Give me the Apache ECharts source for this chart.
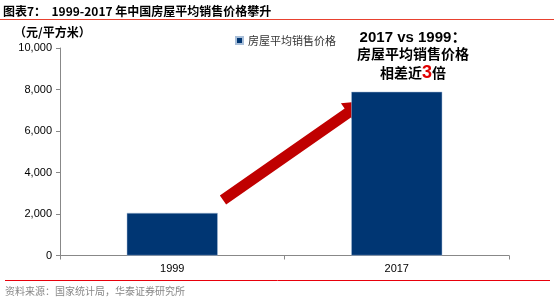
<!DOCTYPE html>
<html><head><meta charset="utf-8">
<script src="https://cdn.jsdelivr.net/npm/echarts@6/dist/echarts.min.js"></script>
<style>html,body{margin:0;padding:0;background:#fff}#c{width:554px;height:300px}</style>
</head><body><div id="c"></div>
<script>
var categories = ['1999', '2017'];
var seriesName = '房屋平均销售价格';
var priceValues = [2053, 7892];
var yTicks = [0, 2000, 4000, 6000, 8000, 10000];

function arrowPoints(tail, tip, hw, headLen, headHw) {
  var dx = tip[0] - tail[0], dy = tip[1] - tail[1];
  var L = Math.sqrt(dx * dx + dy * dy);
  var ux = dx / L, uy = dy / L, nx = -uy, ny = ux;
  var bx = tip[0] - headLen * ux, by = tip[1] - headLen * uy;
  return [
    [tail[0] - hw * nx, tail[1] - hw * ny],
    [bx - hw * nx, by - hw * ny],
    [bx - headHw * nx, by - headHw * ny],
    tip,
    [bx + headHw * nx, by + headHw * ny],
    [bx + hw * nx, by + hw * ny],
    [tail[0] + hw * nx, tail[1] + hw * ny]
  ];
}

var chart = echarts.init(document.getElementById('c'));
var FONT = 'Liberation Sans, Arial, "Noto Sans CJK SC", sans-serif';
var CJK = '"Noto Sans CJK SC", sans-serif';
chart.setOption({
  animation: false,
  textStyle: {fontFamily: FONT},
  grid: {left: 60, right: 45, top: 48, bottom: 44.5},
  legend: {
    data: [seriesName], left: 230, top: 30, icon: 'rect', itemWidth: 7, itemHeight: 7, itemGap: 4,
    textStyle: {fontFamily: CJK, fontSize: 11, color: '#333'}
  },
  xAxis: {
    type: 'category', data: categories,
    axisLine: {lineStyle: {color: '#888', width: 1}},
    axisTick: {show: true, length: 4, lineStyle: {color: '#888'}},
    axisLabel: {color: '#000', fontSize: 11, margin: 8, fontFamily: FONT}
  },
  yAxis: {
    type: 'value', min: yTicks[0], max: yTicks[yTicks.length - 1], interval: 2000,
    axisLine: {show: true, lineStyle: {color: '#888', width: 1}},
    axisTick: {show: true, length: 4, lineStyle: {color: '#888'}},
    splitLine: {show: false},
    axisLabel: {color: '#000', fontSize: 11, margin: 8, fontFamily: FONT,
      formatter: function (v) { return v.toLocaleString('en-US'); }}
  },
  series: [{
    name: seriesName, type: 'bar', data: priceValues, barWidth: 91,
    itemStyle: {color: '#003673', borderColor: '#a9bfd9', borderWidth: 0.5}
  }],
  graphic: [
    {type: 'text', left: 3, top: 5, style: {text: '图表7：  1999-2017 年中国房屋平均销售价格攀升', font: 'bold 12px ' + CJK, fill: '#000'}},
    {type: 'line', shape: {x1: 0, y1: 19.5, x2: 554, y2: 19.5}, style: {stroke: '#e8412f', lineWidth: 1.2}},
    {type: 'text', left: 14, top: 26, style: {text: '（元/平方米）', font: 'bold 12px ' + CJK, fill: '#000'}},
    {type: 'text', x: 413, y: 30, style: {text: '2017 vs 1999：', font: 'bold 15px ' + FONT, fill: '#000', textAlign: 'center'}},
    {type: 'text', x: 413, y: 47, style: {text: '房屋平均销售价格', font: 'bold 14px ' + CJK, fill: '#000', textAlign: 'center'}},
    {type: 'text', x: 413, y: 64, style: {
      text: '{a|相差近}{b|3}{a|倍}', textAlign: 'center',
      rich: {a: {font: 'bold 14px ' + CJK, fill: '#000'}, b: {font: 'bold 18px ' + FONT, fill: '#e00000'}}
    }},
    {type: 'polygon', shape: {points: arrowPoints([223, 200], [365, 101], 5.5, 21, 12)}, style: {fill: '#c00000'}},
    {type: 'line', shape: {x1: 5, y1: 280.5, x2: 550, y2: 280.5}, style: {stroke: '#e8000b', lineWidth: 1}},
    {type: 'text', left: 5, top: 286, style: {text: '资料来源：国家统计局，华泰证券研究所', font: '10px ' + CJK, fill: '#888'}}
  ]
});
</script></body></html>
